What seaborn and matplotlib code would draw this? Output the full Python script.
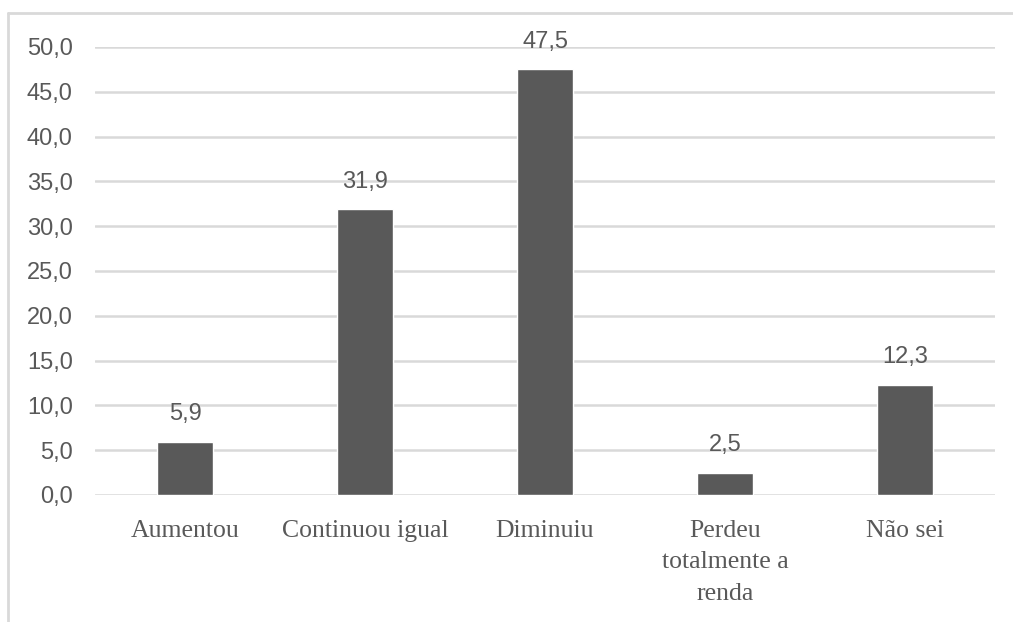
import matplotlib
matplotlib.use("Agg")
import matplotlib.pyplot as plt
from matplotlib.lines import Line2D
import seaborn as sns
import pandas as pd

categories = ["Aumentou", "Continuou igual", "Diminuiu", "Perdeu\ntotalmente a\nrenda", "Não sei"]
values = [5.9, 31.9, 47.5, 2.5, 12.3]
yticks = [0, 5, 10, 15, 20, 25, 30, 35, 40, 45, 50]

df = pd.DataFrame({"categoria": categories, "percentual": values})

sns.set_theme(style="white")
plt.rcParams["font.family"] = ["Liberation Sans", "DejaVu Sans"]

text_color = "#595959"
grid_color = "#d9d9d9"

fig = plt.figure(figsize=(10.13, 6.22), dpi=100)
ax = fig.add_axes([95 / 1013, 1 - 495 / 622, 900 / 1013, (495 - 47) / 622])

sns.barplot(data=df, x="categoria", y="percentual", color="#595959",
            width=0.31, saturation=1, ax=ax, zorder=3)

ax.set_ylim(0, 50)
ax.set_yticks(yticks)
ax.set_yticklabels([f"{v:.1f}".replace(".", ",") for v in yticks],
                   fontsize=17, color=text_color)
ax.yaxis.grid(True, color=grid_color, linewidth=1.8, zorder=0)
ax.set_axisbelow(True)
ax.tick_params(axis="y", length=0, pad=16)
ax.tick_params(axis="x", length=0, pad=18)
for lbl in ax.get_xticklabels():
    lbl.set_fontfamily("Liberation Serif")
    lbl.set_fontsize(18.5)
    lbl.set_color(text_color)
    lbl.set_linespacing(1.55)
ax.set_xlabel("")
ax.set_ylabel("")
for s in ax.spines.values():
    s.set_visible(False)

for cont in ax.containers:
    ax.bar_label(cont, labels=[f"{v:.1f}".replace(".", ",") for v in values],
                 padding=12, fontsize=17, color=text_color)

# chart area frame (left and top edges)
fig.add_artist(Line2D([8 / 1013, 8 / 1013], [0, 1 - 13 / 622], transform=fig.transFigure,
                      color=grid_color, linewidth=2))
fig.add_artist(Line2D([8 / 1013, 1], [1 - 13 / 622, 1 - 13 / 622], transform=fig.transFigure,
                      color=grid_color, linewidth=2))

fig.savefig("out.png", dpi=100, facecolor="white")
